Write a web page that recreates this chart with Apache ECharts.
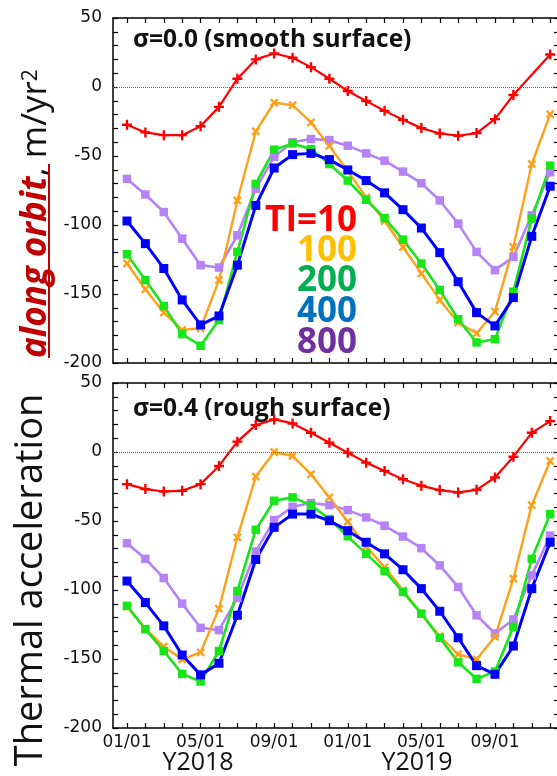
<!DOCTYPE html>
<html>
<head>
<meta charset="utf-8">
<script src="https://cdn.jsdelivr.net/npm/echarts@6/dist/echarts.min.js"></script>
<style>
html,body{margin:0;padding:0;background:#fff;overflow:hidden;}
#c{width:562px;height:776px;}
</style>
</head>
<body>
<div id="c"></div>
<script>
// Months: Jan 2018 .. Dec 2019 (index 0..23)
const months = ['2018-01','2018-02','2018-03','2018-04','2018-05','2018-06','2018-07','2018-08','2018-09','2018-10','2018-11','2018-12',
                '2019-01','2019-02','2019-03','2019-04','2019-05','2019-06','2019-07','2019-08','2019-09','2019-10','2019-11','2019-12'];
const xTickLabelIdx = [0, 4, 8, 12, 16, 20];
const xTickLabels = ['01/01', '05/01', '09/01', '01/01', '05/01', '09/01'];
const yearLabels = ['Y2018', 'Y2019'];
const yLabelValues = [-200, -150, -100, -50, 0, 50];
const seriesNames = ['TI=10', '100', '200', '400', '800'];
const panelTitles = ['\u03c3=0.0 (smooth surface)', '\u03c3=0.4 (rough surface)'];

// sigma = 0.0 (smooth surface)
const smoothTI10  = [-27.4,-32.9,-34.9,-34.9,-28.4,-14.4,6.0,20.0,24.3,21.2,14.4,6.0,-2.9,-10.1,-17.3,-23.8,-29.8,-33.7,-35.3,-33.4,-23.3,-5.8,null,23.6];
const smoothTI100 = [-127.9,-146.6,-163.5,-176,-174.8,-139.9,-82.2,-32.2,-11.3,-13.2,-25.7,-42.7,-61,-80,-97.1,-115.9,-135.1,-154.3,-170.7,-178.4,-162.7,-115.9,-55.8,-19.7];
const smoothTI200 = [-121.2,-139.9,-158.7,-179.1,-187.5,-168.8,-119.5,-70.2,-45.4,-40.9,-45,-55.8,-67.8,-81.7,-95,-110.6,-127.9,-147.1,-168.3,-185.1,-182.7,-148.3,-95.4,-57];
const smoothTI400 = [-97.1,-113.5,-131.5,-154.3,-172.4,-165.9,-129.1,-85.8,-58.7,-49,-48.1,-52.6,-60.1,-67.8,-76.7,-88.9,-102.2,-120,-141.1,-163.5,-173.1,-152.6,-108.2,-71.9];
const smoothTI800 = [-66.6,-77.9,-90.6,-109.9,-129.1,-130.8,-107.5,-73.8,-50.5,-40.1,-37.7,-38.5,-42.5,-48.1,-53.4,-61.3,-69.7,-82.2,-99,-119.5,-132.7,-123.1,-93,-61.8];

// sigma = 0.4 (rough surface)
const roughTI10  = [-23.3,-26.9,-28.6,-28.1,-23.3,-10.1,7.5,19.5,23.6,20.7,13.9,6.7,-0.5,-7.7,-13.7,-19.7,-24.5,-27.6,-29.3,-27.4,-18.5,-3.4,13.9,22.4];
const roughTI100 = [-112,-128,-141.1,-150.2,-145.2,-113.5,-61.8,-17.8,0,-2.9,-16.1,-32.9,-50.5,-68.5,-83.4,-100.2,-117.5,-133.4,-146.6,-150.2,-133.9,-91.8,-38.5,-6.5];
const roughTI200 = [-111.5,-128.4,-144.2,-160.8,-166.3,-144.2,-100.7,-56.3,-35.3,-32.9,-38.5,-48.6,-61.1,-73.8,-86.3,-101.4,-117.1,-134.6,-152.4,-164.4,-159.1,-126.7,-77.4,-45];
const roughTI400 = [-93.5,-109.1,-126,-147.1,-161.5,-153.1,-118.3,-77.9,-54.6,-45,-45,-49.8,-57,-65.4,-73.8,-85.3,-99,-115.4,-134.6,-154.8,-161.1,-140.6,-99,-65.4];
const roughTI800 = [-66.1,-77.4,-91.3,-109.9,-127.4,-129.1,-105.8,-72.1,-49.3,-39.7,-37,-38.5,-42.1,-47.4,-53.4,-61.3,-69.7,-82.2,-97.8,-118.3,-131.5,-121.4,-89.4,-60.6];

const lineColors = ['#ff0000', '#ffa01a', '#19e619', '#0000ff', '#b583f5'];
const legendColors = ['#ff0000', '#ffc000', '#00b050', '#0070c0', '#7030a0'];

const chart = echarts.init(document.getElementById('c'), null, {renderer: 'canvas'});

const monthIdx = months.map((m, i) => i);
const toPairs = arr => arr.map((v, i) => [i, v]);
const labelMap = {};
xTickLabelIdx.forEach((p, i) => { labelMap[p] = xTickLabels[i]; });

const plusPath = 'path://M3.8,0 L6.2,0 L6.2,3.8 L10,3.8 L10,6.2 L6.2,6.2 L6.2,10 L3.8,10 L3.8,6.2 L0,6.2 L0,3.8 L3.8,3.8 Z';
const X_MIN = -0.76, X_MAX = 23.48;
const axisLineStyle = {show: true, onZero: false, lineStyle: {color: '#000', width: 1.5}};
const tickStyle = {show: true, inside: true, length: 5, lineStyle: {color: '#000', width: 1.2}};

function xAx(grid, pos, labels) {
  return {
    gridIndex: grid, type: 'value', min: X_MIN, max: X_MAX, position: pos,
    axisLine: axisLineStyle,
    axisTick: Object.assign({customValues: monthIdx}, tickStyle),
    axisLabel: labels ? {
      show: true, customValues: xTickLabelIdx, margin: 6,
      fontFamily: 'DejaVu Sans', fontSize: 17, color: '#111',
      formatter: v => labelMap[Math.round(v)] || ''
    } : {show: false},
    splitLine: {show: false}
  };
}
function yAx(grid, pos, labels) {
  return {
    gridIndex: grid, type: 'value', min: -200, max: 50, interval: 10, position: pos,
    axisLine: axisLineStyle,
    axisTick: tickStyle,
    axisLabel: labels ? {
      show: true, customValues: yLabelValues, margin: 11,
      fontFamily: 'DejaVu Sans', fontSize: 17, color: '#111',
      formatter: v => (Math.round(v) % 50 === 0 ? String(Math.round(v)) : '')
    } : {show: false},
    splitLine: {show: false}
  };
}

function makeSeries(panel, data) {
  const xi = panel * 2, yi = panel * 2;
  const defs = [
    {k: 4, sym: 'rect', size: 8.5, w: 2.6},
    {k: 1, sym: plusPath, size: 10, w: 2.4, rot: 45},
    {k: 2, sym: 'rect', size: 8.5, w: 2.6},
    {k: 3, sym: 'rect', size: 9, w: 3},
    {k: 0, sym: plusPath, size: 10, w: 2.2}
  ];
  return defs.map(d => {
    const s = {
      name: seriesNames[d.k] + '_' + panel,
      type: 'line', xAxisIndex: xi, yAxisIndex: yi,
      data: toPairs(data[d.k]),
      connectNulls: true,
      symbol: d.sym, symbolSize: d.size, symbolRotate: d.rot || 0, showSymbol: true,
      itemStyle: {color: lineColors[d.k]},
      lineStyle: {color: lineColors[d.k], width: d.w},
      silent: true
    };
    if (d.k === 0) {
      s.markLine = {
        silent: true, symbol: ['none', 'none'], label: {show: false},
        lineStyle: {type: 'dotted', color: '#666', width: 1},
        data: [{yAxis: 0}]
      };
    }
    return s;
  });
}

const graphics = [];
// panel titles
graphics.push({type: 'text', x: 133, y: 40, style: {text: panelTitles[0], font: 'bold 24.5px "Open Sans"', fill: '#111', textVerticalAlign: 'middle'}});
graphics.push({type: 'text', x: 133, y: 409, style: {text: panelTitles[1], font: 'bold 24.5px "Open Sans"', fill: '#111', textVerticalAlign: 'middle'}});
// legend texts
const legendY = [221, 251, 281, 312, 343];
seriesNames.forEach((n, i) => {
  graphics.push({type: 'text', x: 357, y: legendY[i], style: {text: n, font: 'bold 35px "Open Sans"', fill: legendColors[i], textAlign: 'right', textVerticalAlign: 'middle'}});
});
// year labels
graphics.push({type: 'text', x: 198, y: 763, style: {text: yearLabels[0], font: '25px "Open Sans"', fill: '#111', textAlign: 'center', textVerticalAlign: 'middle'}});
graphics.push({type: 'text', x: 417, y: 763, style: {text: yearLabels[1], font: '25px "Open Sans"', fill: '#111', textAlign: 'center', textVerticalAlign: 'middle'}});
// y axis title
graphics.push({type: 'text', x: 31, y: 580, rotation: Math.PI / 2,
  style: {text: 'Thermal acceleration', font: '38px "Open Sans"', fill: '#111', textAlign: 'center', textVerticalAlign: 'middle'}});
graphics.push({type: 'text', x: 31, y: 358, rotation: Math.PI / 2,
  style: {
    text: '{b|along orbit}{n|, m/yr}{s|2}',
    textAlign: 'left', textVerticalAlign: 'middle',
    rich: {
      b: {fontFamily: 'Open Sans', fontSize: 35, fontWeight: 'bold', fontStyle: 'italic', fill: '#c00000', lineHeight: 46, verticalAlign: 'bottom'},
      n: {fontFamily: 'Open Sans', fontSize: 35, fill: '#111', lineHeight: 46, verticalAlign: 'bottom'},
      s: {fontFamily: 'Open Sans', fontSize: 21, fill: '#111', lineHeight: 30, verticalAlign: 'middle'}
    }
  }});
graphics.push({type: 'line', shape: {x1: 49, y1: 358, x2: 49, y2: 164}, style: {stroke: '#c00000', lineWidth: 2}});

const option = {
  animation: false,
  backgroundColor: '#fff',
  grid: [
    {left: 113, top: 18, width: 446, height: 345},
    {left: 113, top: 383, width: 446, height: 345}
  ],
  xAxis: [xAx(0, 'bottom', false), xAx(0, 'top', false), xAx(1, 'bottom', true), xAx(1, 'top', false)],
  yAxis: [yAx(0, 'left', true), yAx(0, 'right', false), yAx(1, 'left', true), yAx(1, 'right', false)],
  series: makeSeries(0, [smoothTI10, smoothTI100, smoothTI200, smoothTI400, smoothTI800])
    .concat(makeSeries(1, [roughTI10, roughTI100, roughTI200, roughTI400, roughTI800])),
  graphic: graphics
};
chart.setOption(option);
</script>
</body>
</html>
